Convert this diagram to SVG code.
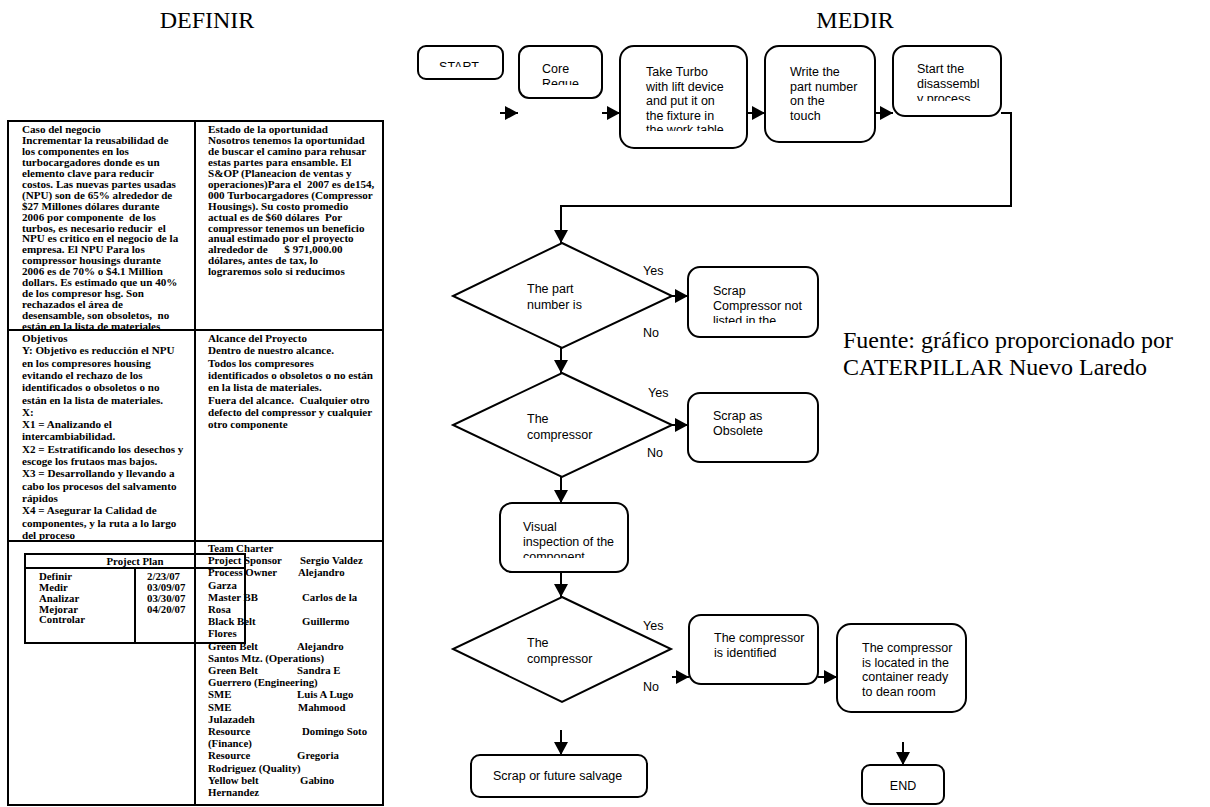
<svg xmlns="http://www.w3.org/2000/svg" width="1210" height="807" viewBox="0 0 1210 807">
<style>
.title{font-family:"Liberation Serif","Times New Roman",serif;font-size:24px;fill:#000}
.src{font-family:"Liberation Serif","Times New Roman",serif;font-size:24px;fill:#000}
.tb{font-family:"Liberation Serif","Times New Roman",serif;font-size:11.1px;font-weight:bold;fill:#000;white-space:pre}
.ts{font-family:"Liberation Serif","Times New Roman",serif;font-size:10.8px;font-weight:bold;fill:#000;white-space:pre}
.tline{fill:none;stroke:#000;stroke-width:2}
.box{fill:#fff;stroke:#000;stroke-width:2}
.ft{font-family:"Liberation Sans",Arial,sans-serif;font-size:12.5px;fill:#000}
.conn{fill:none;stroke:#000;stroke-width:2}
</style>
<defs>
<marker id="ah" markerUnits="userSpaceOnUse" markerWidth="13" markerHeight="14" refX="13" refY="7" orient="auto">
<path d="M0,0 L13,7 L0,14 z" fill="#000"/>
</marker>
<clipPath id="cStart"><rect x="418" y="46" width="85" height="21"/></clipPath>
<clipPath id="cCore"><rect x="519" y="46" width="83" height="39"/></clipPath>
<clipPath id="cTurbo"><rect x="620" y="46" width="127" height="85"/></clipPath>
<clipPath id="cDis"><rect x="893" y="46" width="108" height="55"/></clipPath>
<clipPath id="cScrap1"><rect x="688" y="267" width="130" height="56"/></clipPath>
<clipPath id="cVis"><rect x="500" y="503" width="128" height="55"/></clipPath>
</defs>
<rect width="1210" height="807" fill="#fff"/>

<g id="titles">
<text class="title" x="207" y="28" text-anchor="middle">DEFINIR</text>
<text class="title" x="855" y="28" text-anchor="middle">MEDIR</text>
</g>

<g id="charter-table">
<rect class="tline" x="8" y="121" width="375" height="684"/>
<line class="tline" x1="195" y1="121" x2="195" y2="805"/>
<line class="tline" x1="8" y1="330" x2="383" y2="330"/>
<line class="tline" x1="8" y1="541" x2="383" y2="541"/>
<text class="tb" x="22" y="133">
<tspan x="22" dy="0">Caso del negocio</tspan>
<tspan x="22" dy="10.95">Incrementar la reusabilidad de</tspan>
<tspan x="22" dy="10.95">los componentes en los</tspan>
<tspan x="22" dy="10.95">turbocargadores donde es un</tspan>
<tspan x="22" dy="10.95">elemento clave para reducir</tspan>
<tspan x="22" dy="10.95">costos. Las nuevas partes usadas</tspan>
<tspan x="22" dy="10.95">(NPU) son de 65% alrededor de</tspan>
<tspan x="22" dy="10.95">$27 Millones dólares durante</tspan>
<tspan x="22" dy="10.95">2006 por componente  de los</tspan>
<tspan x="22" dy="10.95">turbos, es necesario reducir  el</tspan>
<tspan x="22" dy="10.95">NPU es critico en el negocio de la</tspan>
<tspan x="22" dy="10.95">empresa. El NPU Para los</tspan>
<tspan x="22" dy="10.95">compressor housings durante</tspan>
<tspan x="22" dy="10.95">2006 es de 70% o $4.1 Million</tspan>
<tspan x="22" dy="10.95">dollars. Es estimado que un 40%</tspan>
<tspan x="22" dy="10.95">de los compresor hsg. Son</tspan>
<tspan x="22" dy="10.95">rechazados el área de</tspan>
<tspan x="22" dy="10.95">desensamble, son obsoletos,  no</tspan>
<tspan x="22" dy="10.95">están en la lista de materiales</tspan>
</text>
<text class="tb" x="208" y="133">
<tspan x="208" dy="0">Estado de la oportunidad</tspan>
<tspan x="208" dy="10.95">Nosotros tenemos la oportunidad</tspan>
<tspan x="208" dy="10.95">de buscar el camino para rehusar</tspan>
<tspan x="208" dy="10.95">estas partes para ensamble. El</tspan>
<tspan x="208" dy="10.95">S&amp;OP (Planeacion de ventas y</tspan>
<tspan x="208" dy="10.95">operaciones)Para el  2007 es de154,</tspan>
<tspan x="208" dy="10.95">000 Turbocargadores (Compressor</tspan>
<tspan x="208" dy="10.95">Housings). Su costo promedio</tspan>
<tspan x="208" dy="10.95">actual es de $60 dólares  Por</tspan>
<tspan x="208" dy="10.95">compressor tenemos un beneficio</tspan>
<tspan x="208" dy="10.95">anual estimado por el proyecto</tspan>
<tspan x="208" dy="10.95">alrededor de      $ 971,000.00</tspan>
<tspan x="208" dy="10.95">dólares, antes de tax, lo</tspan>
<tspan x="208" dy="10.95">lograremos solo si reducimos</tspan>
</text>
<text class="tb" x="22" y="342">
<tspan x="22" dy="0">Objetivos</tspan>
<tspan x="22" dy="12.3">Y: Objetivo es reducción el NPU</tspan>
<tspan x="22" dy="12.3">en los compresores housing</tspan>
<tspan x="22" dy="12.3">evitando el rechazo de los</tspan>
<tspan x="22" dy="12.3">identificados o obsoletos o no</tspan>
<tspan x="22" dy="12.3">están en la lista de materiales.</tspan>
<tspan x="22" dy="12.3">X:</tspan>
<tspan x="22" dy="12.3">X1 = Analizando el</tspan>
<tspan x="22" dy="12.3">intercambiabilidad.</tspan>
<tspan x="22" dy="12.3">X2 = Estratificando los desechos y</tspan>
<tspan x="22" dy="12.3">escoge los frutaos mas bajos.</tspan>
<tspan x="22" dy="12.3">X3 = Desarrollando y llevando a</tspan>
<tspan x="22" dy="12.3">cabo los procesos del salvamento</tspan>
<tspan x="22" dy="12.3">rápidos</tspan>
<tspan x="22" dy="12.3">X4 = Asegurar la Calidad de</tspan>
<tspan x="22" dy="12.3">componentes, y la ruta a lo largo</tspan>
<tspan x="22" dy="12.3">del proceso</tspan>
</text>
<text class="tb" x="208" y="342">
<tspan x="208" dy="0">Alcance del Proyecto</tspan>
<tspan x="208" dy="12.3">Dentro de nuestro alcance.</tspan>
<tspan x="208" dy="12.3">Todos los compresores</tspan>
<tspan x="208" dy="12.3">identificados o obsoletos o no están</tspan>
<tspan x="208" dy="12.3">en la lista de materiales.</tspan>
<tspan x="208" dy="12.3">Fuera del alcance.  Cualquier otro</tspan>
<tspan x="208" dy="12.3">defecto del compressor y cualquier</tspan>
<tspan x="208" dy="12.3">otro componente</tspan>
</text>
</g>

<g id="project-plan">
<rect class="tline" x="25" y="554" width="220" height="89"/>
<line class="tline" x1="25" y1="568" x2="245" y2="568"/>
<line class="tline" x1="135" y1="568" x2="135" y2="643"/>
<text class="ts" x="135" y="565" text-anchor="middle">Project Plan</text>
<text class="ts" x="39" y="580">Definir</text>
<text class="ts" x="39" y="591">Medir</text>
<text class="ts" x="39" y="602">Analizar</text>
<text class="ts" x="39" y="612.5">Mejorar</text>
<text class="ts" x="39" y="623">Controlar</text>
<text class="ts" x="147" y="580">2/23/07</text>
<text class="ts" x="147" y="591">03/09/07</text>
<text class="ts" x="147" y="602">03/30/07</text>
<text class="ts" x="147" y="612.5">04/20/07</text>
</g>

<g id="team-charter">
<text class="ts" x="208" y="552">Team Charter</text>
<text class="ts" x="208" y="564.2">Project Sponsor</text><text class="ts" x="300" y="564.2">Sergio Valdez</text>
<text class="ts" x="208" y="576.4">Process Owner</text><text class="ts" x="298" y="576.4">Alejandro</text>
<text class="ts" x="208" y="588.6">Garza</text>
<text class="ts" x="208" y="600.8">Master BB</text><text class="ts" x="302" y="600.8">Carlos de la</text>
<text class="ts" x="208" y="613">Rosa</text>
<text class="ts" x="208" y="625.2">Black Belt</text><text class="ts" x="302" y="625.2">Guillermo</text>
<text class="ts" x="208" y="637.4">Flores</text>
<text class="ts" x="208" y="649.6">Green Belt</text><text class="ts" x="297" y="649.6">Alejandro</text>
<text class="ts" x="208" y="661.8">Santos Mtz. (Operations)</text>
<text class="ts" x="208" y="674">Green Belt</text><text class="ts" x="297" y="674">Sandra E</text>
<text class="ts" x="208" y="686.2">Guerrero (Engineering)</text>
<text class="ts" x="208" y="698.4">SME</text><text class="ts" x="297" y="698.4">Luis A Lugo</text>
<text class="ts" x="208" y="710.6">SME</text><text class="ts" x="298" y="710.6">Mahmood</text>
<text class="ts" x="208" y="722.8">Julazadeh</text>
<text class="ts" x="208" y="735">Resource</text><text class="ts" x="302" y="735">Domingo Soto</text>
<text class="ts" x="208" y="747.2">(Finance)</text>
<text class="ts" x="208" y="759.4">Resource</text><text class="ts" x="297" y="759.4">Gregoria</text>
<text class="ts" x="208" y="771.6">Rodriguez (Quality)</text>
<text class="ts" x="208" y="783.8">Yellow belt</text><text class="ts" x="300" y="783.8">Gabino</text>
<text class="ts" x="208" y="796">Hernandez</text>
</g>

<g id="connectors">
<path class="conn" d="M500,113 L518,113" marker-end="url(#ah)"/>
<path class="conn" d="M602,113 L620,113" marker-end="url(#ah)"/>
<path class="conn" d="M747,113 L765,113" marker-end="url(#ah)"/>
<path class="conn" d="M875,113 L893,113" marker-end="url(#ah)"/>
<path class="conn" d="M1001,113 L1011,113 L1011,206 L561,206 L561,243" marker-end="url(#ah)"/>
<path class="conn" d="M670,296 L688,296" marker-end="url(#ah)"/>
<path class="conn" d="M561,348 L561,373" marker-end="url(#ah)"/>
<path class="conn" d="M670,425 L688,425" marker-end="url(#ah)"/>
<path class="conn" d="M561,477 L561,503" marker-end="url(#ah)"/>
<path class="conn" d="M561,572 L561,597" marker-end="url(#ah)"/>
<path class="conn" d="M672,677 L689,677" marker-end="url(#ah)"/>
<path class="conn" d="M818,677 L837,677" marker-end="url(#ah)"/>
<path class="conn" d="M561,730 L561,755" marker-end="url(#ah)"/>
<path class="conn" d="M903,742 L903,765" marker-end="url(#ah)"/>
</g>

<g id="n-start">
<rect class="box" x="418" y="46" width="85" height="33" rx="8"/>
<text class="ft" x="459" y="71" text-anchor="middle" clip-path="url(#cStart)">START</text>
</g>
<g id="n-core">
<rect class="box" x="519" y="46" width="83" height="52" rx="10"/>
<g clip-path="url(#cCore)">
<text class="ft" x="542" y="72.5">Core</text>
<text class="ft" x="542" y="88">Reque</text>
</g>
</g>
<g id="n-turbo">
<rect class="box" x="620" y="46" width="127" height="102" rx="14"/>
<g clip-path="url(#cTurbo)">
<text class="ft" x="646" y="76">Take Turbo</text>
<text class="ft" x="646" y="90.5">with lift device</text>
<text class="ft" x="646" y="105">and put it on</text>
<text class="ft" x="646" y="119.5">the fixture in</text>
<text class="ft" x="646" y="134">the work table</text>
</g>
</g>
<g id="n-write">
<rect class="box" x="765" y="46" width="110" height="96" rx="14"/>
<text class="ft" x="790" y="76">Write the</text>
<text class="ft" x="790" y="90.5">part number</text>
<text class="ft" x="790" y="105">on the</text>
<text class="ft" x="790" y="119.5">touch</text>
</g>
<g id="n-disassembly">
<rect class="box" x="893" y="46" width="108" height="70" rx="12"/>
<g clip-path="url(#cDis)">
<text class="ft" x="917" y="73">Start the</text>
<text class="ft" x="917" y="88">disassembl</text>
<text class="ft" x="917" y="103">y process</text>
</g>
</g>

<g id="n-decision1">
<polygon class="box" points="562,243 672,296 562,348 453,296"/>
<text class="ft" x="527" y="293">The part</text>
<text class="ft" x="527" y="308.5">number is</text>
<text class="ft" x="643" y="274.5">Yes</text>
<text class="ft" x="643" y="336.5">No</text>
</g>
<g id="n-scrap-notlisted">
<rect class="box" x="688" y="267" width="130" height="70" rx="12"/>
<g clip-path="url(#cScrap1)">
<text class="ft" x="713" y="295">Scrap</text>
<text class="ft" x="713" y="310">Compressor not</text>
<text class="ft" x="713" y="325">listed in the</text>
</g>
</g>

<g id="n-decision2">
<polygon class="box" points="562,373 672,425 562,477 453,425"/>
<text class="ft" x="527" y="423">The</text>
<text class="ft" x="527" y="438.5">compressor</text>
<text class="ft" x="648" y="396.5">Yes</text>
<text class="ft" x="647" y="457">No</text>
</g>
<g id="n-obsolete">
<rect class="box" x="688" y="393" width="130" height="69" rx="12"/>
<text class="ft" x="713" y="419.5">Scrap as</text>
<text class="ft" x="713" y="435">Obsolete</text>
</g>

<g id="n-visual">
<rect class="box" x="500" y="503" width="128" height="69" rx="12"/>
<g clip-path="url(#cVis)">
<text class="ft" x="523" y="530.5">Visual</text>
<text class="ft" x="523" y="545.5">inspection of the</text>
<text class="ft" x="523" y="561">component</text>
</g>
</g>

<g id="n-decision3">
<polygon class="box" points="562,597 671,649 562,702 453,649"/>
<text class="ft" x="527" y="647">The</text>
<text class="ft" x="527" y="662.5">compressor</text>
<text class="ft" x="643" y="629.5">Yes</text>
<text class="ft" x="643" y="690.5">No</text>
</g>
<g id="n-identified">
<rect class="box" x="689" y="615" width="129" height="69" rx="12"/>
<text class="ft" x="714" y="642">The compressor</text>
<text class="ft" x="714" y="657">is identified</text>
</g>
<g id="n-located">
<rect class="box" x="837" y="624" width="129" height="88" rx="14"/>
<text class="ft" x="862" y="652">The compressor</text>
<text class="ft" x="862" y="666.5">is located in the</text>
<text class="ft" x="862" y="681">container ready</text>
<text class="ft" x="862" y="695.5">to dean room</text>
</g>
<g id="n-salvage">
<rect class="box" x="471" y="755" width="176" height="42" rx="9"/>
<text class="ft" x="493" y="779.5">Scrap or future salvage</text>
</g>
<g id="n-end">
<rect class="box" x="862" y="765" width="82" height="39" rx="8"/>
<text class="ft" x="903" y="790" text-anchor="middle">END</text>
</g>

<g id="source">
<text class="src" x="843" y="348">Fuente: gráfico proporcionado por</text>
<text class="src" x="843" y="375">CATERPILLAR Nuevo Laredo</text>
</g>
</svg>
